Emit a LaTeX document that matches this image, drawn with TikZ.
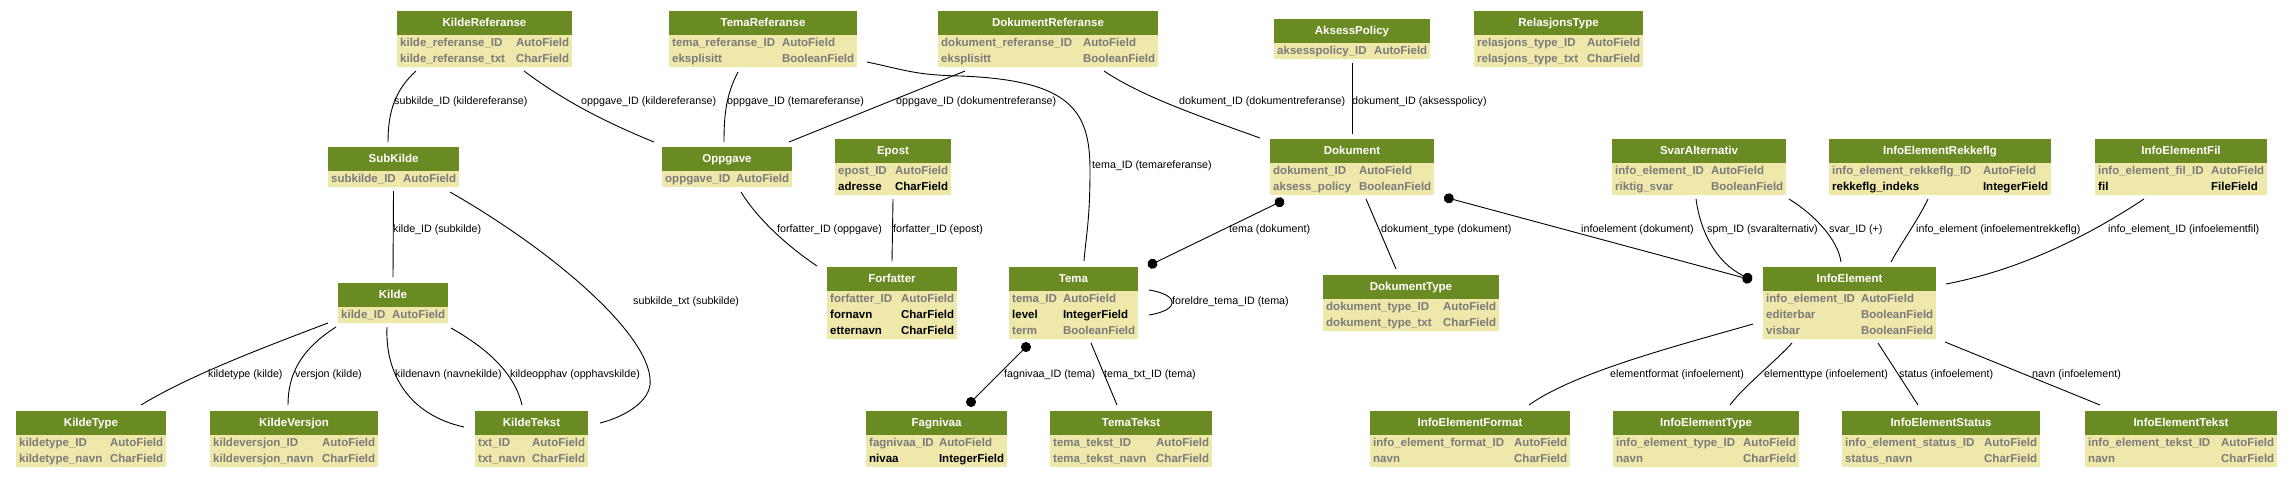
\documentclass[tikz,border=0pt]{standalone}
\usepackage{fontspec}
\setmainfont{Liberation Sans}
\usepackage{xcolor}
\usepackage{tikz}
\usetikzlibrary{arrows.meta,positioning,calc}

\definecolor{hdrgreen}{HTML}{698B22}
\definecolor{bodyyellow}{HTML}{EEE8AA}
\definecolor{fieldgrey}{HTML}{7B7B7B}

\newcommand{\fieldfont}{\fontsize{11.5}{13}\selectfont\bfseries}
\newcommand{\titlefont}{\fontsize{11.5}{13}\selectfont\bfseries}
\newcommand{\relfont}{\fontsize{10.7}{12}\selectfont}
% one field row: grey or dark
\newcommand{\Fgrey}[2]{\textcolor{fieldgrey}{#1} & \textcolor{fieldgrey}{#2}\rule[-4.5pt]{0pt}{16pt}}
\newcommand{\Fdark}[2]{#1 & #2\rule[-4.5pt]{0pt}{16pt}}
% model box: name, left, top, width, rows, title, fields
\newcommand{\dbtable}[7]{%
  \node[tbl, minimum width=#4pt, minimum height={24pt+#5*16pt}] (#1) at (#2,#3) {};
  \fill[tblhead] (#1.north west) rectangle ([yshift=-24pt]#1.north east);
  \node[tbltitle] (#1-title) at ([yshift=-12pt]#1.north) {#6};
  \node[tblrows] (#1-rows) at ([yshift=-24pt]#1.north west)
    {\begin{tabular*}{#4pt}{@{\hspace{3pt}}l@{\extracolsep{\fill}}l@{\extracolsep{0pt}\hspace{3pt}}}#7\end{tabular*}};
}

\begin{document}
\begin{tikzpicture}[x=1pt, y=-1pt,
    tbl/.style={fill=bodyyellow, inner sep=0pt, outer sep=0pt, anchor=north west},
    tblhead/.style={fill=hdrgreen},
    tbltitle/.style={text=white, font=\titlefont, inner sep=0pt, text height=8.5pt, text depth=2.5pt},
    tblrows/.style={anchor=north west, inner sep=0pt, font=\fieldfont},
    rel/.style={draw=black, line width=0.9pt},
    dotend/.style={arrows=-{Circle[length=10pt,width=10pt]}},
    dotboth/.style={arrows={Circle[length=10pt,width=10pt]}-{Circle[length=10pt,width=10pt]}},
    rellabel/.style={anchor=west, inner sep=0pt, font=\relfont, text height=8pt, text depth=2.3pt}]
    \path[use as bounding box, fill=white] (0,0) rectangle (2291,477);

    % Top row
    \dbtable{kref}{397}{11}{175}{2}{KildeReferanse}{\Fgrey{kilde\_referanse\_ID}{AutoField}\\ \Fgrey{kilde\_referanse\_txt}{CharField}}
    \dbtable{tref}{669}{11}{188}{2}{TemaReferanse}{\Fgrey{tema\_referanse\_ID}{AutoField}\\ \Fgrey{eksplisitt}{BooleanField}}
    \dbtable{dref}{938}{11}{220}{2}{DokumentReferanse}{\Fgrey{dokument\_referanse\_ID}{AutoField}\\ \Fgrey{eksplisitt}{BooleanField}}
    \dbtable{aksess}{1274}{19}{156}{1}{AksessPolicy}{\Fgrey{aksesspolicy\_ID}{AutoField}}
    \dbtable{reltype}{1474}{11}{169}{2}{RelasjonsType}{\Fgrey{relasjons\_type\_ID}{AutoField}\\ \Fgrey{relasjons\_type\_txt}{CharField}}

    % Second row
    \dbtable{subkilde}{328}{147}{131}{1}{SubKilde}{\Fgrey{subkilde\_ID}{AutoField}}
    \dbtable{oppgave}{662}{147}{130}{1}{Oppgave}{\Fgrey{oppgave\_ID}{AutoField}}
    \dbtable{epost}{835}{139}{116}{2}{Epost}{\Fgrey{epost\_ID}{AutoField}\\ \Fdark{adresse}{CharField}}
    \dbtable{dokument}{1270}{139}{164}{2}{Dokument}{\Fgrey{dokument\_ID}{AutoField}\\ \Fgrey{aksess\_policy}{BooleanField}}
    \dbtable{svaralt}{1612}{139}{174}{2}{SvarAlternativ}{\Fgrey{info\_element\_ID}{AutoField}\\ \Fgrey{riktig\_svar}{BooleanField}}
    \dbtable{ierekke}{1829}{139}{222}{2}{InfoElementRekkeflg}{\Fgrey{info\_element\_rekkeflg\_ID}{AutoField}\\ \Fdark{rekkeflg\_indeks}{IntegerField}}
    \dbtable{iefil}{2095}{139}{172}{2}{InfoElementFil}{\Fgrey{info\_element\_fil\_ID}{AutoField}\\ \Fdark{fil}{FileField}}

    % Third row
    \dbtable{kilde}{338}{283}{110}{1}{Kilde}{\Fgrey{kilde\_ID}{AutoField}}
    \dbtable{forfatter}{827}{267}{130}{3}{Forfatter}{\Fgrey{forfatter\_ID}{AutoField}\\ \Fdark{fornavn}{CharField}\\ \Fdark{etternavn}{CharField}}
    \dbtable{tema}{1009}{267}{129}{3}{Tema}{\Fgrey{tema\_ID}{AutoField}\\ \Fdark{level}{IntegerField}\\ \Fgrey{term}{BooleanField}}
    \dbtable{doktype}{1323}{275}{176}{2}{DokumentType}{\Fgrey{dokument\_type\_ID}{AutoField}\\ \Fgrey{dokument\_type\_txt}{CharField}}
    \dbtable{infoel}{1763}{267}{173}{3}{InfoElement}{\Fgrey{info\_element\_ID}{AutoField}\\ \Fgrey{editerbar}{BooleanField}\\ \Fgrey{visbar}{BooleanField}}

    % Bottom row
    \dbtable{kildetype}{16}{411}{150}{2}{KildeType}{\Fgrey{kildetype\_ID}{AutoField}\\ \Fgrey{kildetype\_navn}{CharField}}
    \dbtable{kildeversjon}{210}{411}{168}{2}{KildeVersjon}{\Fgrey{kildeversjon\_ID}{AutoField}\\ \Fgrey{kildeversjon\_navn}{CharField}}
    \dbtable{kildetekst}{475}{411}{113}{2}{KildeTekst}{\Fgrey{txt\_ID}{AutoField}\\ \Fgrey{txt\_navn}{CharField}}
    \dbtable{fagnivaa}{866}{411}{141}{2}{Fagnivaa}{\Fgrey{fagnivaa\_ID}{AutoField}\\ \Fdark{nivaa}{IntegerField}}
    \dbtable{tematekst}{1050}{411}{162}{2}{TemaTekst}{\Fgrey{tema\_tekst\_ID}{AutoField}\\ \Fgrey{tema\_tekst\_navn}{CharField}}
    \dbtable{ieformat}{1370}{411}{200}{2}{InfoElementFormat}{\Fgrey{info\_element\_format\_ID}{AutoField}\\ \Fgrey{navn}{CharField}}
    \dbtable{ietype}{1613}{411}{186}{2}{InfoElementType}{\Fgrey{info\_element\_type\_ID}{AutoField}\\ \Fgrey{navn}{CharField}}
    \dbtable{iestatus}{1842}{411}{198}{2}{InfoElementStatus}{\Fgrey{info\_element\_status\_ID}{AutoField}\\ \Fgrey{status\_navn}{CharField}}
    \dbtable{ietekst}{2085}{411}{192}{2}{InfoElementTekst}{\Fgrey{info\_element\_tekst\_ID}{AutoField}\\ \Fgrey{navn}{CharField}}

    % Relations from the top row
    \draw[rel] ([xshift=19pt,yshift=-4pt]kref.south west) .. controls +(-21,19) and +(0,-30) .. ([xshift=60pt,yshift=5pt]subkilde.north west);
    \draw[rel] ([xshift=-48pt,yshift=-4pt]kref.south east) .. controls +(36,27) and +(-54,-22) .. ([xshift=-8pt,yshift=5pt]oppgave.north west);
    \draw[rel] ([xshift=69pt,yshift=-5pt]tref.south west) .. controls +(-12,23) and +(0,-27) .. ([xshift=62pt,yshift=5pt]oppgave.north west);
    \draw[rel] ([xshift=27pt,yshift=-4pt]dref.south west) -- ([xshift=-3pt,yshift=5pt]oppgave.north east);
    \draw[rel] ([xshift=10pt,yshift=5pt]tref.south east) .. controls +(38,8) and +(-45,-1) .. (960,76)
        .. controls +(110,4) and +(0,-60) .. (1090,170) .. controls +(0,50) and +(2,-25) .. ([xshift=10.5pt,yshift=6pt]tema.north);
    \draw[rel] ([xshift=-54pt,yshift=-4pt]dref.south east) .. controls +(36,24) and +(-70,-25) .. ([xshift=-10pt,yshift=1pt]dokument.north west);
    \draw[rel] ([yshift=-4pt]aksess.south) -- ([yshift=5pt]dokument.north);

    \node[rellabel] (lbl-subkref) at (394,102) {subkilde\_ID (kildereferanse)};
    \node[rellabel] (lbl-oppkref) at (581,102) {oppgave\_ID (kildereferanse)};
    \node[rellabel] (lbl-opptref) at (727,102) {oppgave\_ID (temareferanse)};
    \node[rellabel] (lbl-oppdref) at (896,102) {oppgave\_ID (dokumentreferanse)};
    \node[rellabel] (lbl-tematref) at (1092,166) {tema\_ID (temareferanse)};
    \node[rellabel] (lbl-dokdref) at (1179,102) {dokument\_ID (dokumentreferanse)};
    \node[rellabel] (lbl-dokaks) at (1352,102) {dokument\_ID (aksesspolicy)};

    % Relations of Kilde
    \draw[rel] ([yshift=-4pt]subkilde.south) -- ([yshift=6pt]kilde.north);
    \draw[rel] ([xshift=-9pt,yshift=-5pt]subkilde.south east) .. controls +(110,63) and +(5,-45) .. (650,385)
        .. controls +(-3,20) and +(20,-5) .. ([xshift=12pt,yshift=-12pt]kildetekst.north east);
    \draw[rel] ([xshift=-10pt]kilde.south west) .. controls +(-58,22) and +(49,-30) .. ([xshift=50pt,yshift=6pt]kildetype.north);
    \draw[rel] ([xshift=-2pt,yshift=-4pt]kilde.south west) .. controls +(-36,23) and +(0,-30) .. ([xshift=-6pt,yshift=6pt]kildeversjon.north);
    \draw[rel] ([xshift=-6pt,yshift=-4pt]kilde.south) .. controls +(-2,48) and +(-54,-12) .. ([xshift=-11pt,yshift=-16pt]kildetekst.north west);
    \draw[rel] ([xshift=3pt,yshift=-5pt]kilde.south east) .. controls +(39,22) and +(-7,-30) .. ([xshift=-9.5pt,yshift=6pt]kildetekst.north);

    \node[rellabel] (lbl-kildesub) at (393,230) {kilde\_ID (subkilde)};
    \node[rellabel] (lbl-subtxt) at (633,302) {subkilde\_txt (subkilde)};
    \node[rellabel] (lbl-ktype) at (208,375) {kildetype (kilde)};
    \node[rellabel] (lbl-kvers) at (295,375) {versjon (kilde)};
    \node[rellabel] (lbl-knavn) at (395,375) {kildenavn (navnekilde)};
    \node[rellabel] (lbl-kopph) at (510,375) {kildeopphav (opphavskilde)};

    % Relations of Forfatter and Tema
    \draw[rel] ([xshift=14pt,yshift=-5pt]oppgave.south) .. controls +(17,28) and +(-27,-18) .. ([xshift=-10pt,yshift=1pt]forfatter.north west);
    \draw[rel] ([yshift=-4pt]epost.south) -- ([yshift=6pt]forfatter.north);
    \draw[rel] ([xshift=11pt,yshift=13pt]tema.east) .. controls +(31,5) and +(31,-5) .. ([xshift=11pt,yshift=-12pt]tema.east);
    \draw[rel, dotboth] ([xshift=10pt,yshift=1pt]tema.north east) -- ([xshift=14pt,yshift=-5pt]dokument.south west);
    \draw[rel, dotboth] ([xshift=-44pt,yshift=-4.5pt]tema.south) -- ([xshift=31pt,yshift=5.5pt]fagnivaa.north);
    \draw[rel] ([xshift=17.5pt,yshift=-4pt]tema.south) -- ([xshift=-14pt,yshift=6pt]tematekst.north);

    \node[rellabel] (lbl-forfopp) at (777,230) {forfatter\_ID (oppgave)};
    \node[rellabel] (lbl-forfep) at (893,230) {forfatter\_ID (epost)};
    \node[rellabel] (lbl-foreldre) at (1172,302) {foreldre\_tema\_ID (tema)};
    \node[rellabel] (lbl-temadok) at (1229,230) {tema (dokument)};
    \node[rellabel] (lbl-fagniv) at (1004,375) {fagnivaa\_ID (tema)};
    \node[rellabel] (lbl-tematxt) at (1104,375) {tema\_txt\_ID (tema)};

    % Relations of Dokument and InfoElement
    \draw[rel] ([xshift=14pt,yshift=-4pt]dokument.south) -- ([xshift=-15pt,yshift=6pt]doktype.north);
    \draw[rel, dotboth] ([xshift=10pt,yshift=-2pt]dokument.south east) -- ([xshift=-11pt,yshift=-13pt]infoel.north west);
    \draw[rel, dotend] ([xshift=-3pt,yshift=-4pt]svaralt.south) .. controls +(4,31) and +(-37,-18) .. ([xshift=-11pt,yshift=-13pt]infoel.north west);
    \draw[rel] ([xshift=3pt,yshift=-4pt]svaralt.south east) .. controls +(26,16) and +(-3,-22) .. ([xshift=-8.5pt,yshift=5pt]infoel.north);
    \draw[rel] ([xshift=-12pt,yshift=-4pt]ierekke.south) .. controls +(-10,21) and +(9,-17) .. ([xshift=41.5pt,yshift=5pt]infoel.north);
    \draw[rel] ([xshift=-37pt,yshift=-4pt]iefil.south) .. controls +(-44,29) and +(84,-16) .. ([xshift=10pt,yshift=19pt]infoel.east);
    \draw[rel] ([xshift=-10pt,yshift=-21pt]infoel.west) .. controls +(-73,21) and +(46,-33) .. ([xshift=59pt,yshift=6pt]ieformat.north);
    \draw[rel] ([xshift=-57.5pt,yshift=-4pt]infoel.south) .. controls +(-17,19) and +(15,-20) .. ([xshift=24pt,yshift=6pt]ietype.north);
    \draw[rel] ([xshift=28.5pt,yshift=-4pt]infoel.south) -- ([xshift=-23pt,yshift=6pt]iestatus.north);
    \draw[rel] ([xshift=9pt,yshift=-3pt]infoel.south east) -- ([xshift=-81pt,yshift=6pt]ietekst.north);

    \node[rellabel] (lbl-doktype) at (1381,230) {dokument\_type (dokument)};
    \node[rellabel] (lbl-infodok) at (1581,230) {infoelement (dokument)};
    \node[rellabel] (lbl-spm) at (1707,230) {spm\_ID (svaralternativ)};
    \node[rellabel] (lbl-svar) at (1829,230) {svar\_ID (+)};
    \node[rellabel] (lbl-rekke) at (1916,230) {info\_element (infoelementrekkeflg)};
    \node[rellabel] (lbl-fil) at (2108,230) {info\_element\_ID (infoelementfil)};
    \node[rellabel] (lbl-format) at (1610,375) {elementformat (infoelement)};
    \node[rellabel] (lbl-type) at (1764,375) {elementtype (infoelement)};
    \node[rellabel] (lbl-status) at (1899,375) {status (infoelement)};
    \node[rellabel] (lbl-navn) at (2032,375) {navn (infoelement)};
\end{tikzpicture}
\end{document}
